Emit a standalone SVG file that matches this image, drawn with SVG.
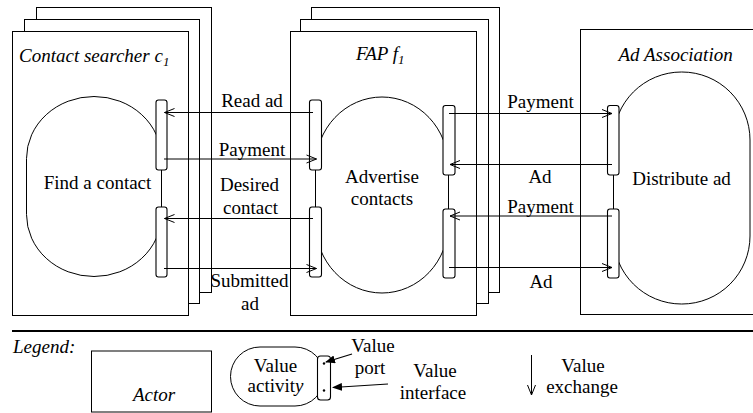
<svg xmlns="http://www.w3.org/2000/svg" width="753" height="413" viewBox="0 0 753 413">
  <style>
    .frame { fill: #fff; stroke: #000; stroke-width: 1; }
    .act { fill: #fff; stroke: #000; stroke-width: 1; }
    .port { fill: #fff; stroke: #000; stroke-width: 1.1; }
    .iface { stroke: #000; stroke-width: 1; fill: none; }
    .flow { stroke: #000; stroke-width: 1; fill: none; marker-end: url(#open); }
    .hint { stroke: #000; stroke-width: 1.2; fill: none; marker-end: url(#solid); }
    .t { font-family: "Liberation Serif", "Times New Roman", serif; font-size: 19px; fill: #000; }
    .m { text-anchor: middle; }
    .i { font-style: italic; }
  </style>
  <defs>
    <marker id="open" viewBox="0 0 12 10" refX="11" refY="5" markerWidth="12" markerHeight="10" orient="auto" markerUnits="userSpaceOnUse">
      <path d="M1,1 L11,5 L1,9" fill="none" stroke="#000" stroke-width="1"/>
    </marker>
    <marker id="solid" viewBox="0 0 10 8" refX="9" refY="4" markerWidth="10" markerHeight="8" orient="auto" markerUnits="userSpaceOnUse">
      <path d="M0,0 L10,4 L0,8 z" fill="#000"/>
    </marker>
  </defs>

  <!-- Actor: contact searcher (stacked, several instances) -->
  <g id="contact-searcher">
    <rect class="frame" x="36.5" y="7.5" width="175" height="285"/>
    <rect class="frame" x="24.5" y="19.5" width="175" height="284"/>
    <rect class="frame" x="12.5" y="31.5" width="176" height="284"/>
    <text class="t i" x="19" y="62">Contact searcher c<tspan font-size="13" dy="4">1</tspan></text>
    <g id="find-contact">
      <rect class="act" x="26.5" y="96.5" width="135" height="180" rx="67.5" ry="62"/>
      <text class="t m" x="97.5" y="189">Find a contact</text>
    </g>
    <line class="iface" x1="161.5" y1="170" x2="161.5" y2="207"/>
    <rect class="port" x="156" y="100" width="11" height="70" rx="2.5"/>
    <rect class="port" x="156" y="207" width="11" height="70" rx="2.5"/>
  </g>

  <!-- Actor: FAP (stacked, several instances) -->
  <g id="fap">
    <rect class="frame" x="311.5" y="7.5" width="188" height="285"/>
    <rect class="frame" x="300.5" y="19.5" width="188" height="284"/>
    <rect class="frame" x="290.5" y="31.5" width="186" height="284"/>
    <text class="t i" x="356" y="60">FAP f<tspan font-size="13" dy="4">1</tspan></text>
    <g id="advertise-contacts">
      <rect class="act" x="315.5" y="97" width="133" height="196" rx="66.5" ry="70"/>
      <text class="t m" x="382" y="183">Advertise</text>
      <text class="t m" x="382" y="205">contacts</text>
    </g>
    <line class="iface" x1="315.5" y1="170" x2="315.5" y2="207"/>
    <line class="iface" x1="448.5" y1="175" x2="448.5" y2="209"/>
    <rect class="port" x="309.5" y="100" width="12" height="70" rx="2.5"/>
    <rect class="port" x="309.5" y="207" width="12" height="70" rx="2.5"/>
    <rect class="port" x="443" y="105.5" width="12" height="69.5" rx="2.5"/>
    <rect class="port" x="443" y="209" width="12" height="69" rx="2.5"/>
  </g>

  <!-- Actor: Ad Association -->
  <g id="ad-association">
    <rect class="frame" x="580.5" y="29.5" width="190" height="285"/>
    <text class="t i" x="618.5" y="61">Ad Association</text>
    <g id="distribute-ad">
      <rect class="act" x="613.5" y="72" width="136.5" height="232" rx="68" ry="68"/>
      <text class="t m" x="681.5" y="184.5">Distribute ad</text>
    </g>
    <line class="iface" x1="613.5" y1="175" x2="613.5" y2="209"/>
    <rect class="port" x="607.5" y="105.5" width="11.5" height="69.5" rx="2.5"/>
    <rect class="port" x="607.5" y="209" width="11.5" height="69" rx="2.5"/>
  </g>

  <!-- Value exchanges -->
  <g id="connectors">
    <path class="flow" d="M313,112.5 H164.5"/>
    <path class="flow" d="M164,159 H316.5"/>
    <path class="flow" d="M313,218.5 H164.5"/>
    <path class="flow" d="M164,268.5 H316.5"/>
    <path class="flow" d="M449,113.5 H612"/>
    <path class="flow" d="M612,164.5 H450"/>
    <path class="flow" d="M612,216 H450"/>
    <path class="flow" d="M449,267.5 H612"/>
  </g>

  <!-- Exchange labels -->
  <g id="labels">
    <text class="t m" x="252" y="107">Read ad</text>
    <text class="t m" x="252" y="155.5">Payment</text>
    <text class="t m" x="249.5" y="191">Desired</text>
    <text class="t m" x="250.5" y="214">contact</text>
    <text class="t m" x="249.5" y="286.5">Submitted</text>
    <text class="t m" x="250" y="310">ad</text>
    <text class="t m" x="540.5" y="108">Payment</text>
    <text class="t m" x="540" y="183">Ad</text>
    <text class="t m" x="540.5" y="212.5">Payment</text>
    <text class="t m" x="541" y="287.5">Ad</text>
  </g>

  <!-- Separator -->
  <line x1="12" y1="331" x2="753" y2="331" stroke="#000" stroke-width="2"/>

  <!-- Legend -->
  <g id="legend">
    <text class="t i" x="13" y="353">Legend:</text>
    <g id="legend-actor">
      <rect class="frame" x="91.5" y="351" width="120" height="61"/>
      <text class="t i m" x="154" y="401">Actor</text>
    </g>
    <g id="legend-activity">
      <rect class="act" x="230.5" y="347" width="94" height="59" rx="29.5"/>
      <text class="t m" x="275.5" y="372">Value</text>
      <text class="t m" x="275.5" y="392">activit<tspan class="i">y</tspan></text>
      <rect class="port" x="317.5" y="356" width="13" height="44" rx="3"/>
      <circle cx="324" cy="363.5" r="1.2" fill="#000"/>
      <circle cx="324" cy="390.5" r="1.2" fill="#000"/>
    </g>
    <path class="hint" d="M352,354 L326,362"/>
    <path class="hint" d="M388,384 L333,387.5"/>
    <text class="t m" x="373" y="352">Value</text>
    <text class="t m" x="370" y="374">port</text>
    <text class="t m" x="435" y="377">Value</text>
    <text class="t m" x="433" y="399">interface</text>
    <g id="legend-exchange">
      <path class="flow" d="M531.5,355 V395"/>
      <text class="t m" x="583" y="372">Value</text>
      <text class="t m" x="582" y="393">exchange</text>
    </g>
  </g>
</svg>
